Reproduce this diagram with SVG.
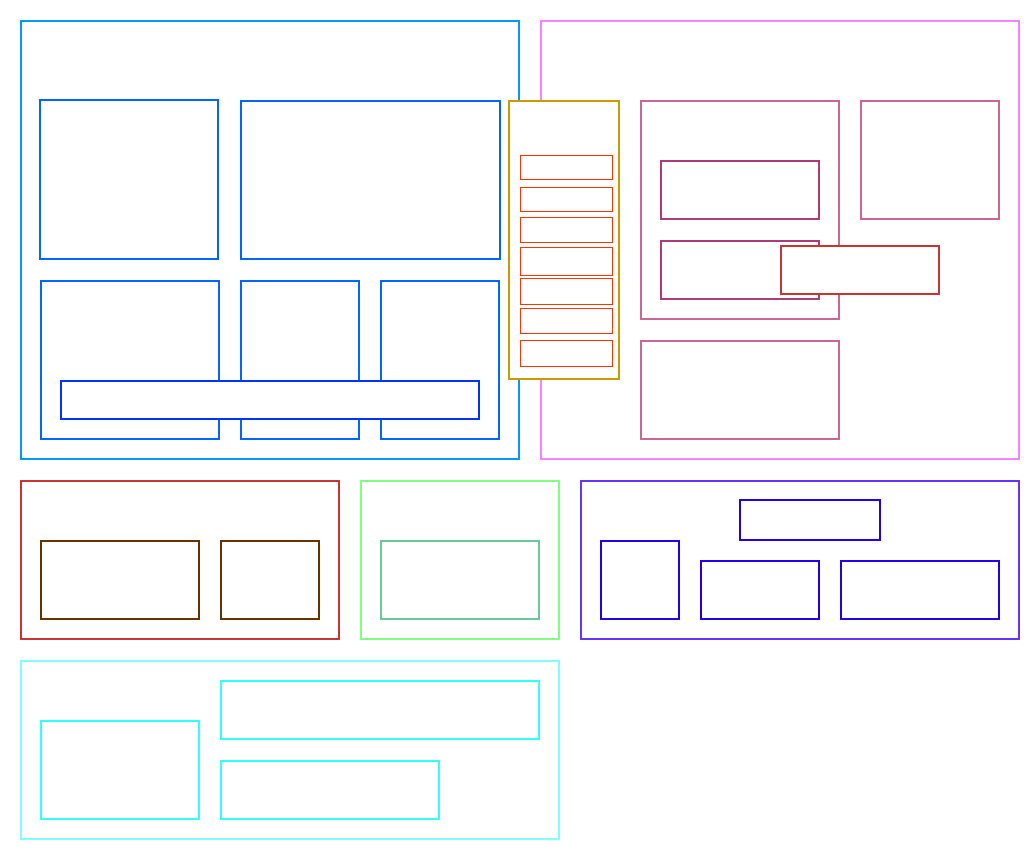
<svg xmlns="http://www.w3.org/2000/svg" width="1024" height="860" viewBox="0 0 1024 860">
<style>
rect{fill:#ffffff;stroke-width:2}
.b0{stroke:#0099ff}.b1{stroke:#0066ff}.b2{stroke:#0033ff}
.p0{stroke:#ff80ff}.p1{stroke:#cc6699}.p2{stroke:#b03a78}.r1{stroke:#cc3333}
.o0{stroke:#cc9900}.o1{stroke:#ff3300;stroke-width:1}
.br0{stroke:#cc3333}.br1{stroke:#663300}
.g0{stroke:#80ff80}.g1{stroke:#66cc99}
.v0{stroke:#6633ff}.v1{stroke:#2200ee}
.c0{stroke:#80ffff}.c1{stroke:#33ffff}
</style>
<rect width="1024" height="860" fill="#ffffff" style="stroke:none"/>
<g id="group-blue">
<rect class="b0" x="21" y="21" width="498" height="438"/>
<g id="n-b1"><rect class="b1" x="40" y="100" width="178" height="159"/></g>
<g id="n-b2"><rect class="b1" x="241" y="101" width="259" height="158"/></g>
<g id="n-b3"><rect class="b1" x="41" y="281" width="178" height="158"/></g>
<g id="n-b4"><rect class="b1" x="241" y="281" width="118" height="158"/></g>
<g id="n-b5"><rect class="b1" x="381" y="281" width="118" height="158"/></g>
<g id="n-b6"><rect class="b2" x="61" y="381" width="418" height="38"/></g>
</g>
<g id="group-pink">
<rect class="p0" x="541" y="21" width="478" height="438"/>
<g id="n-p1"><rect class="p1" x="641" y="101" width="198" height="218"/></g>
<g id="n-p2"><rect class="p1" x="861" y="101" width="138" height="118"/></g>
<g id="n-p3"><rect class="p1" x="641" y="341" width="198" height="98"/></g>
<g id="n-p4"><rect class="p2" x="661" y="161" width="158" height="58"/></g>
<g id="n-p5"><rect class="p2" x="661" y="241" width="158" height="58"/></g>
<g id="n-p6"><rect class="r1" x="781" y="246" width="158" height="48"/></g>
</g>
<g id="group-orange">
<rect class="o0" x="509" y="101" width="110" height="278"/>
<g id="n-o1"><rect class="o1" x="520.5" y="155.5" width="92" height="24"/></g>
<g id="n-o2"><rect class="o1" x="520.5" y="187.5" width="92" height="24"/></g>
<g id="n-o3"><rect class="o1" x="520.5" y="217.5" width="92" height="25"/></g>
<g id="n-o4"><rect class="o1" x="520.5" y="247.5" width="92" height="28"/></g>
<g id="n-o5"><rect class="o1" x="520.5" y="278.5" width="92" height="26"/></g>
<g id="n-o6"><rect class="o1" x="520.5" y="308.5" width="92" height="25"/></g>
<g id="n-o7"><rect class="o1" x="520.5" y="340.5" width="92" height="26"/></g>
</g>
<g id="group-brown">
<rect class="br0" x="21" y="481" width="318" height="158"/>
<g id="n-br1"><rect class="br1" x="41" y="541" width="158" height="78"/></g>
<g id="n-br2"><rect class="br1" x="221" y="541" width="98" height="78"/></g>
</g>
<g id="group-green">
<rect class="g0" x="361" y="481" width="198" height="158"/>
<g id="n-g1"><rect class="g1" x="381" y="541" width="158" height="78"/></g>
</g>
<g id="group-violet">
<rect class="v0" x="581" y="481" width="438" height="158"/>
<g id="n-v1"><rect class="v1" x="740" y="500" width="140" height="40"/></g>
<g id="n-v2"><rect class="v1" x="601" y="541" width="78" height="78"/></g>
<g id="n-v3"><rect class="v1" x="701" y="561" width="118" height="58"/></g>
<g id="n-v4"><rect class="v1" x="841" y="561" width="158" height="58"/></g>
</g>
<g id="group-cyan">
<rect class="c0" x="21" y="661" width="538" height="178"/>
<g id="n-c1"><rect class="c1" x="41" y="721" width="158" height="98"/></g>
<g id="n-c2"><rect class="c1" x="221" y="681" width="318" height="58"/></g>
<g id="n-c3"><rect class="c1" x="221" y="761" width="218" height="58"/></g>
</g>
<g id="connectors"></g>
</svg>
